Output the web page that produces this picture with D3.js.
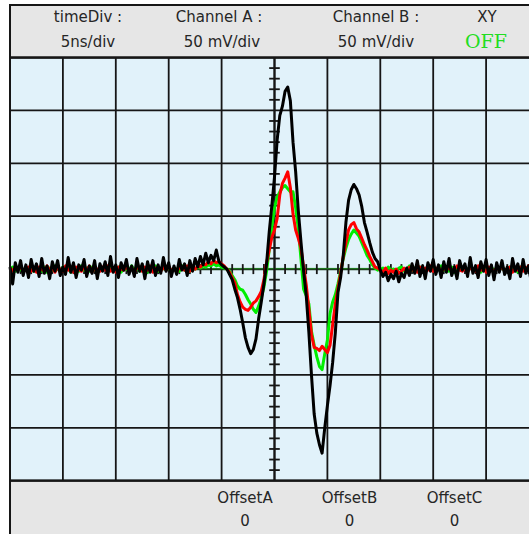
<!DOCTYPE html>
<html>
<head>
<meta charset="utf-8">
<script src="https://cdn.jsdelivr.net/npm/d3@7"></script>
<style>
  html, body { margin: 0; padding: 0; background: #ffffff; overflow: hidden; }
  svg { display: block; }
</style>
</head>
<body>
<svg id="scope" width="529" height="534"></svg>
<script>
// Screen settings: 10 divisions of 5 ns, 8 divisions of 50 mV
const timeDivisions = d3.range(0, 51, 5);          // ns
const voltDivisions = d3.range(-200, 201, 50);     // mV
const sampleStep = 0.25;                           // ns between samples

// Channel traces in mV, one sample every 0.25 ns from 0 to 50 ns
const traceBlack = [
  2,-14,6,-3,8,-6,4,-8,9,-2, 5,-7,10,-4,3,-9,7,-2,8,-6,
  2,-5,11,-3,6,-8,4,-1,9,-7, 3,-4,8,-9,5,-2,7,-6,12,-3,
  4,-8,6,-1,9,-5,3,-7,10,-2, 5,-9,7,-3,8,-6,4,-4,11,-2,
  6,-7,3,-5,9,-1,5,-6,8,-2, 10,2,12,4,15,6,13,8,18,7,
  4,2,0,-5,-10,-19,-27,-38,-51,-65,
  -74,-80,-76,-66,-47,-31,-14,5,35,60,
  87,122,145,154,168,172,159,120,92,55,
  26,-2,-25,-60,-101,-137,-155,-166,-174,-150,
  -129,-110,-88,-60,-22,-8,13,44,65,75,
  80,76,70,59,44,35,25,16,10,7,
  -1,
  -7,-3,-11,-5,-9,-2,-12,-4,-8,1, -6,5,-4,8,-7,3,-9,6,-2,9,
  -5,4,-8,7,-3,10,-6,2,-9,8, -1,5,-7,11,-4,3,-8,7,-2,9,
  -6,4,-10,6,-3,8,-5,2,-9,10, -2,5,-7,9,-4,3,-11,6,-3,4
];

const traceRed = [
  1,-2,2,-1,3,-3,0,2,-2,1, -3,2,0,-2,3,-1,1,-3,2,0,
  -2,3,-1,1,-3,2,0,-2,2,-1, 3,-3,1,0,-2,2,-1,3,-2,1,
  -3,2,0,-1,3,-2,1,-3,2,0, -2,2,-1,3,-3,1,0,-2,2,-1,
  3,-2,1,-3,2,0,-1,3,-2,2, 0,3,2,5,4,7,5,8,6,7,
  5,3,0,-3,-8,-13,-24,-31,-36,-38,
  -39,-36,-32,-30,-26,-21,-10,6,18,30,
  37,48,70,81,86,92,77,52,37,29,
  20,2,-15,-38,-62,-74,-75,-77,-73,-76,
  -79,-72,-52,-33,-18,-4,12,25,37,42,
  44,38,35,29,23,18,12,7,2,1,
  -1,
  -3,1,-4,-1,-3,0,-4,-2,1,-3, 2,-1,0,-3,2,-2,1,-1,3,-2,
  0,2,-3,1,-1,2,-2,0,3,-1, -2,1,-3,2,0,-2,3,-1,1,-3,
  2,0,-2,1,-1,3,-2,0,2,-3, 1,-1,2,-2,0,3,-1,1,-2,0
];

const traceGreen = [
  -1,2,-2,1,0,-3,2,-1,3,-2, 1,0,-2,2,-3,1,-1,3,0,-2,
  2,-1,1,-3,2,0,-2,3,-1,1, -2,2,0,-3,1,-1,2,-2,3,0,
  -1,2,-3,1,0,-2,3,-1,2,-2, 0,1,-3,2,-1,3,-2,0,1,-1,
  2,-3,1,0,-2,3,-1,2,-2,1, 0,2,1,3,2,4,3,5,3,4,
  2,1,0,-2,-6,-10,-16,-19,-20,-24,
  -29,-33,-38,-41,-35,-27,-17,-2,18,40,
  58,68,73,77,79,76,73,73,58,38,
  10,-19,-25,-33,-59,-72,-83,-92,-95,-80,
  -67,-42,-31,-24,-14,-2,10,20,28,33,
  37,34,31,25,19,13,9,4,1,-1,
  0,
  1,-2,2,-1,0,-3,1,2,-2,0, 3,-1,1,-2,2,0,-3,1,-1,2,
  -2,0,3,-1,1,-2,2,-3,0,1, -1,2,-2,3,0,-1,1,-3,2,-1,
  0,2,-2,1,-1,3,-2,0,2,-1, 1,-3,2,0,-1,2,-2,1,0,-1
];

// Panel captions
const headerTitles = ["timeDiv :", "Channel A :", "Channel B :", "XY"];
const headerValues = ["5ns/div", "50 mV/div", "50 mV/div", "OFF"];
const footerTitles = ["OffsetA", "OffsetB", "OffsetC"];
const footerValues = ["0", "0", "0"];

// ---- layout ----
const svg = d3.select("#scope");
const padLeft = 10, padRight = 539, padTop = 5, plotTop = 57.5, plotBottom = 480.7;
const ink = "#161616";
const textInk = "#262626";
const font = "'DejaVu Sans', sans-serif";

const x = d3.scaleLinear().domain([0, 50]).range([padLeft, padRight]);
const y = d3.scaleLinear().domain([-200, 200]).range([plotBottom, plotTop]);

// screen background
svg.append("rect")
  .attr("x", padLeft).attr("y", plotTop)
  .attr("width", padRight - padLeft).attr("height", plotBottom - plotTop)
  .attr("fill", "#e1f2fa");

// division grid
svg.append("g").selectAll("line").data(timeDivisions).join("line")
  .attr("x1", d => x(d)).attr("x2", d => x(d))
  .attr("y1", plotTop).attr("y2", plotBottom)
  .attr("stroke", ink).attr("stroke-width", 1.8);
svg.append("g").selectAll("line").data(voltDivisions).join("line")
  .attr("x1", padLeft).attr("x2", padRight)
  .attr("y1", d => y(d)).attr("y2", d => y(d))
  .attr("stroke", ink).attr("stroke-width", 1.8);

// centre axes
svg.append("line")
  .attr("x1", padLeft).attr("x2", padRight).attr("y1", y(0)).attr("y2", y(0))
  .attr("stroke", "#1d3d1d").attr("stroke-width", 2.2);
svg.append("line")
  .attr("x1", padLeft).attr("x2", padRight).attr("y1", y(0) - 0.7).attr("y2", y(0) - 0.7)
  .attr("stroke", "#1f8f1f").attr("stroke-width", 0.8);
svg.append("line")
  .attr("x1", x(25)).attr("x2", x(25)).attr("y1", plotTop).attr("y2", plotBottom)
  .attr("stroke", ink).attr("stroke-width", 2);

// sub-division ticks along the centre axes
const tickT = d3.range(1, 50, 1).filter(t => t % 5 !== 0);
const tickV = d3.range(-190, 200, 10).filter(v => v % 50 !== 0);
svg.append("g").selectAll("line").data(tickT).join("line")
  .attr("x1", d => x(d)).attr("x2", d => x(d))
  .attr("y1", y(0) - 5).attr("y2", y(0) + 5)
  .attr("stroke", ink).attr("stroke-width", 1.8);
svg.append("g").selectAll("line").data(tickV).join("line")
  .attr("x1", x(25) - 5.3).attr("x2", x(25) + 5.3)
  .attr("y1", d => y(d)).attr("y2", d => y(d))
  .attr("stroke", ink).attr("stroke-width", 1.8);

// traces
const line = d3.line()
  .x((d, i) => x(i * sampleStep))
  .y(d => y(d));
const traces = [
  { data: traceGreen, color: "#00ee00", width: 3 },
  { data: traceRed, color: "#ff0000", width: 3 },
  { data: traceBlack, color: "#000000", width: 3 }
];
svg.append("g").selectAll("path").data(traces).join("path")
  .attr("d", d => line(d.data))
  .attr("fill", "none")
  .attr("stroke", d => d.color)
  .attr("stroke-width", d => d.width)
  .attr("stroke-linejoin", "round");

// header and footer panels
svg.append("rect")
  .attr("x", padLeft).attr("y", padTop)
  .attr("width", padRight - padLeft + 10).attr("height", plotTop - padTop)
  .attr("fill", "#e6e6e6").attr("stroke", ink).attr("stroke-width", 2);
svg.append("rect")
  .attr("x", padLeft).attr("y", plotBottom)
  .attr("width", padRight - padLeft + 10).attr("height", 80)
  .attr("fill", "#e6e6e6").attr("stroke", ink).attr("stroke-width", 2);

// screen frame
svg.append("rect")
  .attr("x", padLeft).attr("y", plotTop)
  .attr("width", padRight - padLeft).attr("height", plotBottom - plotTop)
  .attr("fill", "none").attr("stroke", ink).attr("stroke-width", 2);

// header captions
const headerTitleX = [88, 219, 376, 487];
const headerValueX = [88, 222, 376, 486];
svg.append("g").selectAll("text").data(headerTitles).join("text")
  .attr("x", (d, i) => headerTitleX[i]).attr("y", 22)
  .attr("text-anchor", "middle")
  .attr("font-family", font).attr("font-size", 15)
  .attr("fill", textInk)
  .text(d => d);
svg.append("g").selectAll("text").data(headerValues).join("text")
  .attr("x", (d, i) => headerValueX[i]).attr("y", (d, i) => i === 3 ? 48 : 47)
  .attr("text-anchor", "middle")
  .attr("font-family", (d, i) => i === 3 ? "'DejaVu Serif', serif" : font)
  .attr("font-size", (d, i) => i === 3 ? 19 : 15)
  .attr("fill", (d, i) => i === 3 ? "#22dd22" : textInk)
  .text(d => d);

// footer captions
const footerX = [245, 349.5, 454.5];
svg.append("g").selectAll("text").data(footerTitles).join("text")
  .attr("x", (d, i) => footerX[i]).attr("y", 503)
  .attr("text-anchor", "middle")
  .attr("font-family", font).attr("font-size", 15)
  .attr("fill", textInk)
  .text(d => d);
svg.append("g").selectAll("text").data(footerValues).join("text")
  .attr("x", (d, i) => footerX[i]).attr("y", 526)
  .attr("text-anchor", "middle")
  .attr("font-family", font).attr("font-size", 15)
  .attr("fill", textInk)
  .text(d => d);
</script>
</body>
</html>
